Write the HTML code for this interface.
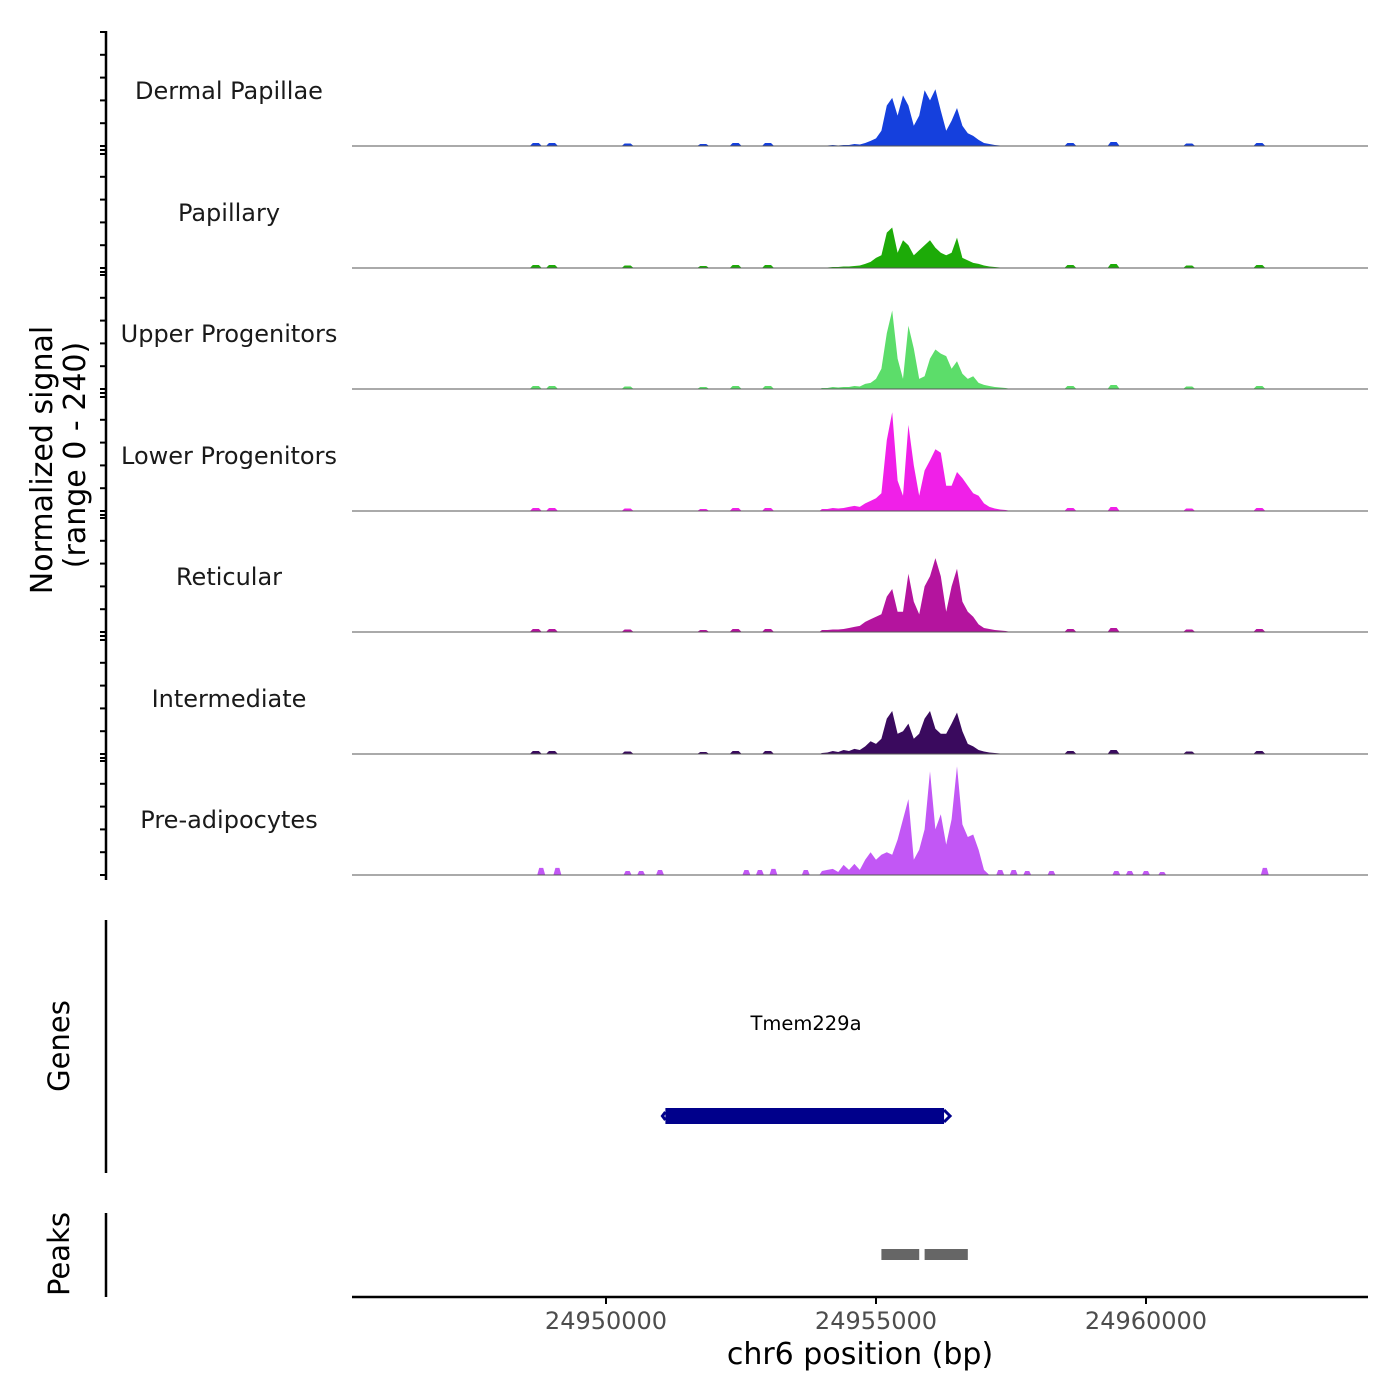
<!DOCTYPE html>
<html><head><meta charset="utf-8"><style>
body{margin:0;background:#fff}
svg{display:block;font-family:"DejaVu Sans","Liberation Sans",sans-serif}
</style></head><body>
<svg id="c" width="1400" height="1400" viewBox="0 0 1400 1400">
<text transform="translate(52,460) rotate(-90)" text-anchor="middle" font-size="30" fill="#000">Normalized signal</text>
<text transform="translate(85,455) rotate(-90)" text-anchor="middle" font-size="30" fill="#000">(range 0 - 240)</text>
<line x1="106" y1="31" x2="106" y2="880" stroke="#000" stroke-width="2.5"/>
<text transform="translate(69,1046) rotate(-90)" text-anchor="middle" font-size="29">Genes</text>
<line x1="106" y1="920" x2="106" y2="1173" stroke="#000" stroke-width="2.5"/>
<text transform="translate(69,1254) rotate(-90)" text-anchor="middle" font-size="29">Peaks</text>
<line x1="106" y1="1213" x2="106" y2="1297" stroke="#000" stroke-width="2.5"/>
<text x="806" y="1030" text-anchor="middle" font-size="19.5">Tmem229a</text>
<line x1="352" y1="1297" x2="1368" y2="1297" stroke="#000" stroke-width="2.5"/>
<text x="860" y="1364" text-anchor="middle" font-size="30">chr6 position (bp)</text>
<g id="tracks"></g>
</svg>
<script>
const trackNames=["Dermal Papillae","Papillary","Upper Progenitors","Lower Progenitors","Reticular","Intermediate","Pre-adipocytes"];
const trackColors=["#1540dd","#1dab08","#5cdd6a","#f020e8","#b4149e","#3a0a5e","#c257f5"];
const binStart=24954000, binSize=100;
const dermalPapillae=[1,1,2,1,2,2,4,3,6,10,15,30,80,95,60,100,80,40,60,110,90,112,70,30,50,75,40,25,20,12,6,4,2,1,1];
const papillary=[1,1,2,2,3,3,4,5,8,12,20,25,70,80,30,55,45,25,35,45,55,40,30,25,30,60,20,15,10,8,5,3,2,1,1];
const upperProgenitors=[2,2,4,3,4,4,6,5,10,12,20,40,110,155,60,20,125,80,20,25,60,78,70,65,40,55,30,20,25,12,8,6,4,3,2];
const lowerProgenitors=[4,4,6,5,6,8,10,8,15,20,25,35,140,195,60,30,170,90,30,80,100,122,115,50,50,77,65,50,35,30,15,8,5,3,2];
const reticular=[4,4,5,5,6,8,10,12,20,25,30,35,70,85,40,40,115,60,35,90,110,146,110,40,90,125,60,40,30,15,8,6,4,3,2];
const intermediate=[2,3,6,4,8,6,10,8,15,25,20,30,70,85,40,45,60,30,40,70,85,50,40,40,60,82,45,20,15,8,5,3,2,1,1];
const preAdipocytes=[8,10,12,6,20,10,22,10,30,45,30,40,45,40,70,110,150,30,50,90,205,90,120,60,110,215,100,75,80,50,10,0,0,0,0];
const blipPos=[24948700,24949000,24950400,24951800,24952400,24953000,24958600,24959400,24960800,24962100];
const blipHeights=[6,6,5,4,6,6,6,8,5,6];
const preBlipPos=[24948800,24949100,24950400,24950650,24951000,24952600,24952850,24953100,24953700,24957300,24957550,24957800,24958250,24959450,24959700,24960000,24960300,24962200];
const preBlipHeights=[14,14,8,8,10,10,10,12,10,10,10,8,8,8,8,8,6,14];
const xTicks=[24950000,24955000,24960000];
const peakStarts=[24955100,24955900];
const peakEnds=[24955800,24956700];
const geneStart=24951100, geneEnd=24956260;
const series=[dermalPapillae,papillary,upperProgenitors,lowerProgenitors,reticular,intermediate,preAdipocytes];

const NS="http://www.w3.org/2000/svg";
const X0=352,X1=1368,BP0=24945296,BP1=24964111;
const xs=bp=>X0+(bp-BP0)/(BP1-BP0)*(X1-X0);
const baselines=[146,268,389,511,632,754,875];
const pxPerUnit=121.5/240;
const g=document.getElementById('tracks');
const svg=document.getElementById('c');
function mk(t,a){const e=document.createElementNS(NS,t);for(const k in a)e.setAttribute(k,a[k]);return e;}

series.forEach((vals,t)=>{
  const b=baselines[t], ys=v=>b-v*pxPerUnit;
  for(let k=0;k<6;k++){
    const tk=mk('line',{x1:100,x2:106,y1:b-k*22.8,y2:b-k*22.8,stroke:'#000','stroke-width':2});
    
    
    svg.appendChild(tk);
  }
  if(t<6){const tk=mk('line',{x1:100,x2:106,y1:b+4,y2:b+4,stroke:'#000','stroke-width':2});
    
    
    svg.appendChild(tk);}
  const lab=mk('text',{x:229,y:b-47,'text-anchor':'middle','font-size':24,fill:'#1a1a1a'});
  lab.textContent=trackNames[t];
  
  
  g.appendChild(lab);
  let d='M'+xs(binStart-binSize/2)+','+b;
  vals.forEach((v,i)=>{d+=' L'+xs(binStart+i*binSize).toFixed(1)+','+ys(v).toFixed(1);});
  d+=' L'+xs(binStart+(vals.length)*binSize)+','+b+' Z';
  const p=mk('path',{d:d,fill:trackColors[t]});
  
  
  g.appendChild(p);
  const bp=t===6?preBlipPos:blipPos, bh=t===6?preBlipHeights:blipHeights;
  bp.forEach((pos,i)=>{
    const x=xs(pos), w=t===6?4:6;
    const bl=mk('path',{d:`M${x-w},${b} L${x-w/2},${ys(bh[i])} L${x+w/2},${ys(bh[i])} L${x+w},${b} Z`,fill:trackColors[t]});
    
    
    g.appendChild(bl);
  });
  const base=mk('line',{x1:X0,x2:X1,y1:b,y2:b,stroke:'#555','stroke-width':1});
  
  
  g.appendChild(base);
});
const gb=mk('rect',{x:xs(geneStart),y:1108,width:xs(geneEnd)-xs(geneStart),height:16,fill:'#00008b'});


g.appendChild(gb);
const ga=mk('path',{d:`M${xs(geneEnd)},1110 l6,6 l-6,6 M${xs(geneStart)},1112 l-3,4 l3,4`,stroke:'#00008b','stroke-width':3,fill:'none'});


g.appendChild(ga);
peakStarts.forEach((s,i)=>{
  const r=mk('rect',{x:xs(s),y:1249,width:xs(peakEnds[i])-xs(s),height:11,fill:'#666'});
  
  
  g.appendChild(r);
});
xTicks.forEach(v=>{
  const x=xs(v);
  const l=mk('line',{x1:x,x2:x,y1:1297,y2:1304,stroke:'#000','stroke-width':2});
  
  
  g.appendChild(l);
  const tx=mk('text',{x:x,y:1329,'text-anchor':'middle','font-size':24,fill:'#4d4d4d'});
  tx.textContent=v;
  
  
  g.appendChild(tx);
});
</script>
</body></html>
